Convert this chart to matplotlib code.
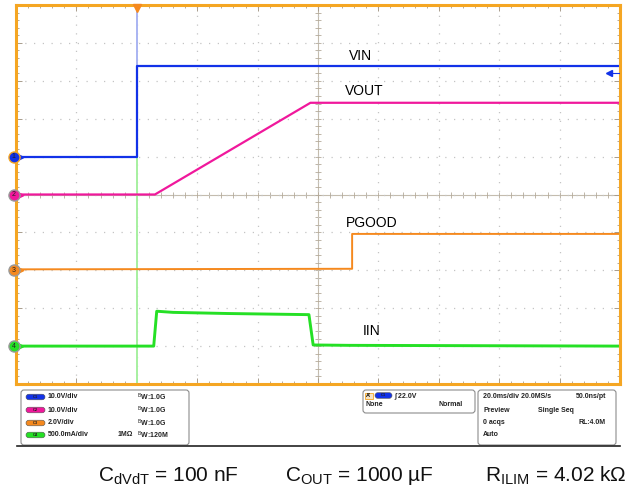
import numpy as np
import matplotlib
matplotlib.use('Agg')
import matplotlib.pyplot as plt
from matplotlib.patches import FancyBboxPatch, Rectangle

plt.rcParams['font.family'] = ['Liberation Sans', 'DejaVu Sans']
plt.rcParams['mathtext.fontset'] = 'custom'
plt.rcParams['mathtext.rm'] = 'Liberation Sans'
plt.rcParams['mathtext.it'] = 'Liberation Sans:italic'

# ---- scope settings ----
names = ['VIN', 'VOUT', 'PGOOD', 'IIN']
colors = ['#1232e8', '#f0189c', '#f5891e', '#25e025']
scales = [10.0, 10.0, 2.0, 0.5]          # V/div, V/div, V/div, A/div
offsets = [6, 5, 3, 1]                   # ground marker, divisions from bottom
ms_per_div = 20.0
trig_time = 0.0
trig_level = 22.0

# ---- traces (time in ms, value in V or A) ----
vin_t = [-40, 0, 0, 160]
vin_v = [0, 0, 23.8, 23.8]

vout_t = [-40, 6.0, 57.5, 160]
vout_v = [0, 0, 24.2, 24.2]

pgood_t = [-40, 71.3, 71.3, 160]
pgood_v = [0.05, 0.08, 1.92, 1.92]

iin_t = [-40, 5.6, 6.6, 12, 30, 57.0, 58.4, 70, 160]
iin_v = [0, 0, 0.46, 0.445, 0.43, 0.415, 0.015, 0.01, 0.0]

# pale fast edges at the trigger instant
vin_edge = [0, 45]
iin_edge = [-1.0, 2.5]

label_pos = [(70.3, 8.65), (69.0, 7.73), (69.3, 4.26), (74.9, 1.41)]

caption = [r'C$_{\mathrm{dVdT}}$ = 100 nF',
           r'C$_{\mathrm{OUT}}$ = 1000 µF',
           r'R$_{\mathrm{ILIM}}$ = 4.02 kΩ']


def to_div(vals, ch):
    return offsets[ch] + np.asarray(vals) / scales[ch]


W, H = 631, 492
fig = plt.figure(figsize=(W / 100, H / 100), dpi=100)
fig.patch.set_facecolor('white')

left, right, top, bottom = 16, 620, 5, 384
ax = fig.add_axes([left / W, 1 - bottom / H, (right - left) / W, (bottom - top) / H])
ax.set_xlim(-40, 160)
ax.set_ylim(0, 10)

# grid and centre crosshair
ax.set_xticks(np.arange(-40, 161, ms_per_div))
ax.set_yticks(np.arange(0, 11, 1))
ax.set_xticks(np.arange(-40, 161, ms_per_div / 5), minor=True)
ax.set_yticks(np.arange(0, 10.01, 0.2), minor=True)
ax.tick_params(which='both', direction='in', top=True, right=True,
               labelbottom=False, labelleft=False, color='#a89c8c')
ax.tick_params(which='major', length=4, width=0.7)
ax.tick_params(which='minor', length=2.5, width=0.6)
ax.grid(which='major', ls=(0, (1, 6)), color='#c4c4c4', lw=0.9)
ax.axhline(5, color='#c4bcae', lw=0.8, zorder=1)
ax.axvline(60, color='#c4bcae', lw=0.8, zorder=1)
ax.plot(np.arange(-40, 161, 4), np.full(51, 5), '|', color='#b4aa9a', ms=4, mew=0.6, zorder=1)
ax.plot(np.full(51, 60), np.arange(0, 10.01, 0.2), '_', color='#b4aa9a', ms=4, mew=0.6, zorder=1)

for s in ax.spines.values():
    s.set_color('#f5a623')
    s.set_linewidth(2.2)
    s.set_zorder(6)

# pale edges on the trigger line
ax.plot([trig_time, trig_time], to_div(vin_edge, 0), color='#a9b4f2', lw=1.4, zorder=2)
ax.plot([trig_time, trig_time], to_div(iin_edge, 3), color='#a6f0a0', lw=1.4, zorder=2)

# traces
ax.plot(vin_t, to_div(vin_v, 0), color=colors[0], lw=1.6, zorder=4)
ax.plot(vout_t, to_div(vout_v, 1), color=colors[1], lw=1.6, zorder=4)
ax.plot(pgood_t, to_div(pgood_v, 2), color=colors[2], lw=1.4, zorder=4)
ax.plot(iin_t, to_div(iin_v, 3), color=colors[3], lw=2.1, zorder=4)

for name, (x, y) in zip(names, label_pos):
    ax.text(x, y, name, fontsize=10, va='center', ha='left', color='black')

# channel ground markers on the left edge
rings = ['#f5a623', '#9a9a9a', '#9a9a9a', '#9a9a9a']
for i, c in enumerate(colors):
    y0 = offsets[i]
    ax.plot([-40.8], [y0], 'o', ms=8, mfc=c, mec=rings[i], mew=1.0, clip_on=False, zorder=8)
    ax.text(-40.8, y0, str(i + 1), fontsize=5, ha='center', va='center',
            color='#222222', clip_on=False, zorder=9)
    ax.plot([-38.2], [y0], '>', ms=3.5, color=c, clip_on=False, zorder=7)

# trigger position (top) and trigger level (right)
ax.plot([trig_time], [9.93], 'v', ms=6, color='#f5891e', clip_on=False, zorder=8)
ax.plot([156.5, 160], [to_div(trig_level, 0)] * 2, color=colors[0], lw=0.8, zorder=7)
ax.plot([156.5], [to_div(trig_level, 0)], '<', ms=4, color=colors[0], zorder=7)

# ---- status panel underneath (pixel coordinates) ----
pan = fig.add_axes([0, 0, 1, 1], zorder=-1)
pan.set_xlim(0, W)
pan.set_ylim(H, 0)
pan.axis('off')
pan.plot([17, 620], [445.5, 445.5], color='#222222', lw=1.2)


def box(x0, y0, x1, y1):
    pan.add_patch(FancyBboxPatch((x0, y0), x1 - x0, y1 - y0,
                                 boxstyle='round,pad=0,rounding_size=3',
                                 fc='white', ec='#8c8c8c', lw=0.8))


def pill(x, y, c, txt, w=19):
    pan.add_patch(FancyBboxPatch((x, y - 2.8), w, 5.6,
                                 boxstyle='round,pad=0,rounding_size=2.8',
                                 fc=c, ec='#555555', lw=0.4))
    pan.text(x + w / 2, y, txt, fontsize=3, ha='center', va='center',
             color='#222222', fontweight='bold')


tkw = dict(fontsize=5, fontweight='bold', va='center', color='#222222')

box(21, 390, 189, 445)
rows = [397, 410, 423, 435]
chan_txt = ['10.0V/div', '10.0V/div', '2.0V/div', '500.0mA/div']
bw_txt = ['1.0G', '1.0G', '1.0G', '120M']
for i in range(4):
    pill(26, rows[i], colors[i], 'C%d' % (i + 1))
    pan.text(48, rows[i], chan_txt[i], **tkw)
    pan.text(137, rows[i], r'$^{\mathrm{B}}$W:' + bw_txt[i], **tkw)
pan.text(118, rows[3], '1MΩ', **tkw)

box(363, 390, 475, 413)
pan.add_patch(Rectangle((365, 392.5), 8, 6, fc='#f3e3c8', ec='#f5a623', lw=0.6))
pan.text(369, 395.5, "A'", fontsize=4, fontweight='bold', ha='center', va='center')
pill(375, 395.5, colors[0], 'C1', w=17)
pan.text(394, 395.5, '∫ 22.0V', **tkw)
pan.text(365, 404.5, 'None', **tkw)
pan.text(463, 404.5, 'Normal', ha='right', **tkw)

box(478, 390, 616, 445)
pan.text(483, 396, '20.0ms/div 20.0MS/s', **tkw)
pan.text(606, 396, '50.0ns/pt', ha='right', **tkw)
pan.text(483, 410, 'Preview', **tkw)
pan.text(538, 410, 'Single Seq', **tkw)
pan.text(483, 423, '0 acqs', **tkw)
pan.text(606, 423, 'RL:4.0M', ha='right', **tkw)
pan.text(483, 435, 'Auto', **tkw)

# caption line
cap_x = [98, 285, 485]
for x, s in zip(cap_x, caption):
    pan.text(x, 476, s, fontsize=15, ha='left', va='center', color='#111111')

fig.savefig('out.png', dpi=100)
